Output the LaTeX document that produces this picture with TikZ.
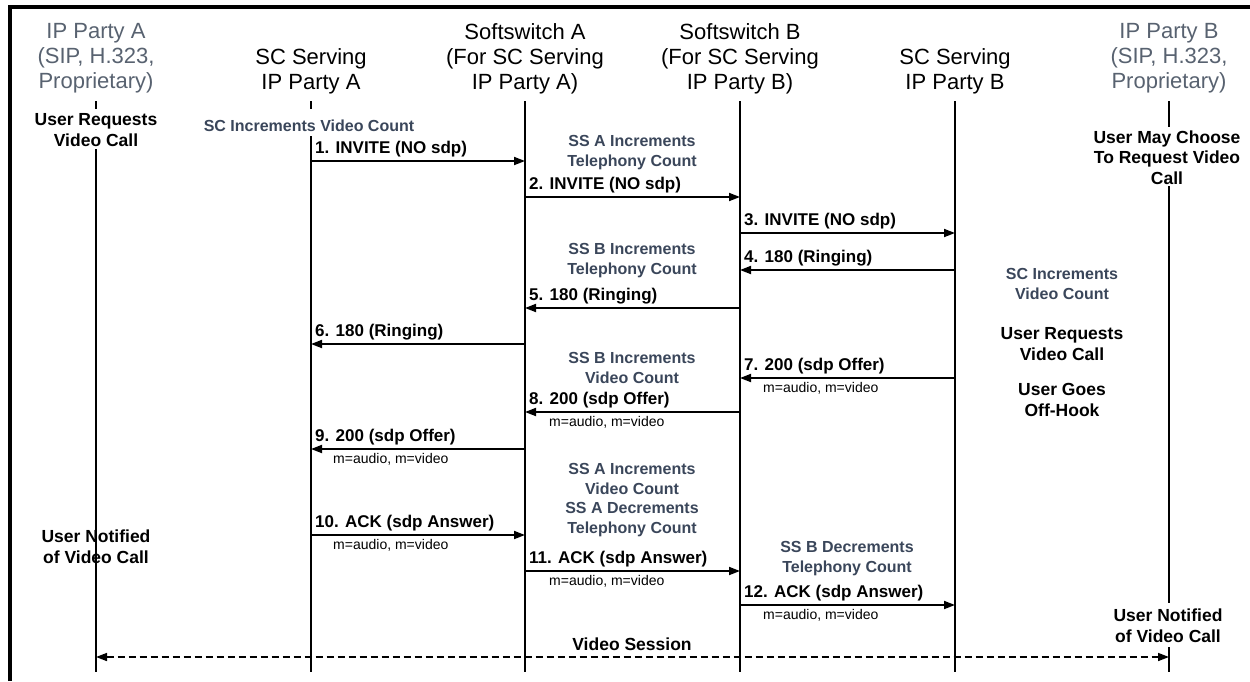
\documentclass[tikz,border=0pt]{standalone}
\usepackage{fontspec}
\setmainfont{Liberation Sans}
\usetikzlibrary{arrows.meta}
\definecolor{hdrgray}{RGB}{88,98,112}
\definecolor{noteblue}{RGB}{58,70,90}
\begin{document}
\begin{tikzpicture}[x=1pt,y=-1pt,
  hdr/.style={align=center, font=\fontsize{22}{25}\selectfont, inner sep=0pt, anchor=base},
  act/.style={align=center, font=\bfseries\fontsize{17.5}{20.5}\selectfont, inner sep=0pt, anchor=base},
  note/.style={align=center, font=\bfseries\fontsize{16}{19.5}\selectfont, text=noteblue, inner sep=0pt, anchor=base},
  msg/.style={font=\bfseries\fontsize{17}{19}\selectfont, inner sep=0pt, anchor=base west},
  sdp/.style={font=\fontsize{14}{16}\selectfont, inner sep=0pt, anchor=base west},
  life/.style={line width=1.8pt},
  arr/.style={line width=1.8pt, -{Triangle[length=11pt,width=8pt]}},
  darr/.style={line width=1.6pt, dash pattern=on 7pt off 4pt, {Triangle[length=11pt,width=8pt]}-{Triangle[length=11pt,width=8pt]}},
  frame/.style={line width=4pt}
]
\useasboundingbox (0,0) rectangle (1250,681);
% frame
\coordinate (fa) at (10,681);
\coordinate (fb) at (10,7);
\coordinate (fc) at (1250,7);
\draw[frame] (fa) -- (fb) -- (fc);

% headers (anchor = baseline of last line)
\node[hdr, text=hdrgray] (h1) at (96,88) {IP Party A\\(SIP, H.323,\\Proprietary)};
\node[hdr] (h2) at (311,89) {SC Serving\\IP Party A};
\node[hdr] (h3) at (525,89) {Softswitch A\\(For SC Serving\\IP Party A)};
\node[hdr] (h4) at (740,89) {Softswitch B\\(For SC Serving\\IP Party B)};
\node[hdr] (h5) at (955,89) {SC Serving\\IP Party B};
\node[hdr, text=hdrgray] (h6) at (1169,88) {IP Party B\\(SIP, H.323,\\Proprietary)};

% lifeline coordinates
\coordinate (l1t) at (96,101);  \coordinate (l1u) at (96,109);
\coordinate (l1m) at (96,149);  \coordinate (l1b) at (96,672);
\coordinate (l2t) at (311,101); \coordinate (l2u) at (311,109);
\coordinate (l2m) at (311,136); \coordinate (l2b) at (311,672);
\coordinate (l3t) at (525,101); \coordinate (l3b) at (525,672);
\coordinate (l4t) at (740,101); \coordinate (l4b) at (740,672);
\coordinate (l5t) at (955,101); \coordinate (l5b) at (955,672);
\coordinate (l6t) at (1169,101); \coordinate (l6u) at (1169,127);
\coordinate (l6m) at (1169,186); \coordinate (l6n) at (1169,603);
\coordinate (l6o) at (1169,647); \coordinate (l6b) at (1169,672);
\draw[life] (l1t) -- (l1u);
\draw[life] (l1m) -- (l1b);
\draw[life] (l2t) -- (l2u);
\draw[life] (l2m) -- (l2b);
\draw[life] (l3t) -- (l3b);
\draw[life] (l4t) -- (l4b);
\draw[life] (l5t) -- (l5b);
\draw[life] (l6t) -- (l6u);
\draw[life] (l6m) -- (l6n);
\draw[life] (l6o) -- (l6b);

% actor notes (anchor = baseline of last line)
\node[act] (u1) at (96,146) {User Requests\\Video Call};
\node[act] (u2) at (96,563) {User Notified\\of Video Call};
\node[act] (u3) at (1167,184) {User May Choose\\To Request Video\\Call};
\node[act] (u4) at (1168,642) {User Notified\\of Video Call};
\node[act] (u5) at (1062,360) {User Requests\\Video Call};
\node[act] (u6) at (1062,416) {User Goes\\Off-Hook};

% blue notes
\node[note] (n0) at (309,131) {SC Increments Video Count};
\node[note] (n1) at (632,166) {SS A Increments\\Telephony Count};
\node[note] (n2) at (632,274) {SS B Increments\\Telephony Count};
\node[note] (n3) at (632,383) {SS B Increments\\Video Count};
\node[note] (n4) at (632,533) {SS A Increments\\Video Count\\SS A Decrements\\Telephony Count};
\node[note] (n5) at (847,572) {SS B Decrements\\Telephony Count};
\node[note] (n6) at (1062,299) {SC Increments\\Video Count};

% messages
\coordinate (m1a) at (311,161);  \coordinate (m1b) at (525,161);
\coordinate (m2a) at (525,197);  \coordinate (m2b) at (740,197);
\coordinate (m3a) at (740,233);  \coordinate (m3b) at (955,233);
\coordinate (m4a) at (955,270);  \coordinate (m4b) at (740,270);
\coordinate (m5a) at (740,308);  \coordinate (m5b) at (525,308);
\coordinate (m6a) at (525,344);  \coordinate (m6b) at (311,344);
\coordinate (m7a) at (955,378);  \coordinate (m7b) at (740,378);
\coordinate (m8a) at (740,412);  \coordinate (m8b) at (525,412);
\coordinate (m9a) at (525,449);  \coordinate (m9b) at (311,449);
\coordinate (m10a) at (311,535); \coordinate (m10b) at (525,535);
\coordinate (m11a) at (525,571); \coordinate (m11b) at (740,571);
\coordinate (m12a) at (740,605); \coordinate (m12b) at (955,605);
\foreach \i in {1,...,12} {\draw[arr] (m\i a) -- (m\i b);}

\node[msg] (t1) at (315,153) {1. INVITE (NO sdp)};
\node[msg] (t2) at (529,189) {2. INVITE (NO sdp)};
\node[msg] (t3) at (744,225) {3. INVITE (NO sdp)};
\node[msg] (t4) at (744,262) {4. 180 (Ringing)};
\node[msg] (t5) at (529,300) {5. 180 (Ringing)};
\node[msg] (t6) at (315,336) {6. 180 (Ringing)};
\node[msg] (t7) at (744,370) {7. 200 (sdp Offer)};
\node[msg] (t8) at (529,404) {8. 200 (sdp Offer)};
\node[msg] (t9) at (315,441) {9. 200 (sdp Offer)};
\node[msg] (t10) at (315,527) {10. ACK (sdp Answer)};
\node[msg] (t11) at (529,563) {11. ACK (sdp Answer)};
\node[msg] (t12) at (744,597) {12. ACK (sdp Answer)};

\node[sdp] (s7) at (763,392) {m=audio, m=video};
\node[sdp] (s8) at (549,426) {m=audio, m=video};
\node[sdp] (s9) at (333,463) {m=audio, m=video};
\node[sdp] (s10) at (333,549) {m=audio, m=video};
\node[sdp] (s11) at (549,585) {m=audio, m=video};
\node[sdp] (s12) at (763,619) {m=audio, m=video};

% video session
\coordinate (va) at (96,657);
\coordinate (vb) at (1169,657);
\draw[darr] (va) -- (vb);
\node[msg, anchor=base, font=\bfseries\fontsize{17.5}{19}\selectfont] (vs) at (632,650) {Video Session};
\end{tikzpicture}
\end{document}
